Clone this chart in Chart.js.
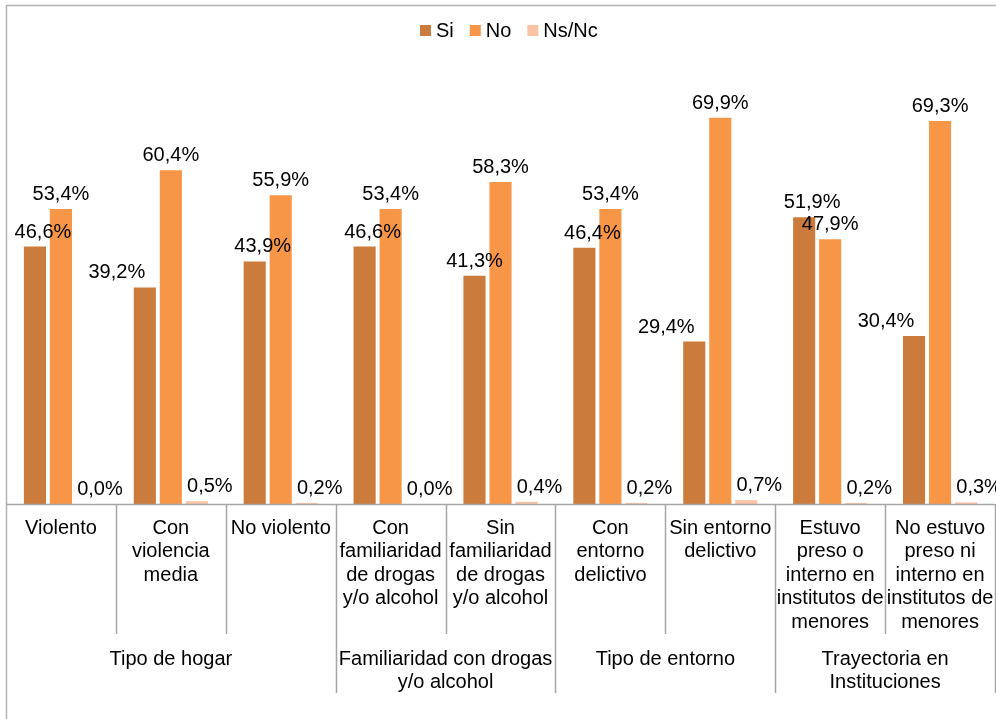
<!DOCTYPE html>
<html>
<head>
<meta charset="utf-8">
<script src="https://cdn.jsdelivr.net/npm/chart.js@4"></script>
<style>
  html, body { margin: 0; padding: 0; background: #fff; }
  #wrap { width: 996px; height: 719px; }
</style>
</head>
<body>
<div id="wrap"><canvas id="chart" width="996" height="719"></canvas></div>
<script>
// Core data
const categories = [
  ['Violento'],
  ['Con', 'violencia', 'media'],
  ['No violento'],
  ['Con', 'familiaridad', 'de drogas', 'y/o alcohol'],
  ['Sin', 'familiaridad', 'de drogas', 'y/o alcohol'],
  ['Con', 'entorno', 'delictivo'],
  ['Sin entorno', 'delictivo'],
  ['Estuvo', 'preso o', 'interno en', 'institutos de', 'menores'],
  ['No estuvo', 'preso ni', 'interno en', 'institutos de', 'menores']
];
const groups = [
  { label: ['Tipo de hogar'], from: 0, to: 2 },
  { label: ['Familiaridad con drogas', 'y/o alcohol'], from: 3, to: 4 },
  { label: ['Tipo de entorno'], from: 5, to: 6 },
  { label: ['Trayectoria en', 'Instituciones'], from: 7, to: 8 }
];
const seriesNames = ['Si', 'No', 'Ns/Nc'];
const siValues = [46.6, 39.2, 43.9, 46.6, 41.3, 46.4, 29.4, 51.9, 30.4];
const noValues = [53.4, 60.4, 55.9, 53.4, 58.3, 53.4, 69.9, 47.9, 69.3];
const nsValues = [0.0, 0.5, 0.2, 0.0, 0.4, 0.2, 0.7, 0.2, 0.3];

const colors = ['#CB7B3B', '#F79646', '#FAC3A5'];
const FONT = '20px "Liberation Sans", Arial, sans-serif';
const LINE = '#A6A6A6';

function fmt(v){ return v.toFixed(1).replace('.', ',') + '%'; }

// labels, legend, category axis and frame
const decorPlugin = {
  id: 'decor',
  afterDatasetsDraw(chart){
    const { ctx, chartArea: a, scales: { x } } = chart;
    const n = categories.length;
    const step = (a.right - a.left) / n;
    ctx.save();
    ctx.font = FONT;
    ctx.fillStyle = '#000';

    // data labels
    ctx.textAlign = 'center';
    ctx.textBaseline = 'alphabetic';
    chart.data.datasets.forEach((ds, di) => {
      const meta = chart.getDatasetMeta(di);
      meta.data.forEach((bar, i) => {
        let dx = 0;
        if(di === 0){
          const diff = noValues[i] - siValues[i];
          dx = diff > 20 ? -28 : (diff > 15 ? 0 : 8);
        } else if(di === 2){
          dx = 13;
        }
        ctx.fillText(fmt(ds.data[i]), bar.x + dx, bar.y - 9);
      });
    });

    // frame
    ctx.strokeStyle = '#B3B3B3';
    ctx.lineWidth = 1.5;
    ctx.beginPath();
    ctx.moveTo(6.5, 719); ctx.lineTo(6.5, 5.5); ctx.lineTo(996, 5.5);
    ctx.stroke();

    // baseline + separators
    ctx.strokeStyle = LINE;
    ctx.lineWidth = 1.5;
    ctx.beginPath();
    ctx.moveTo(a.left, a.bottom + 0.5); ctx.lineTo(a.right, a.bottom + 0.5);
    for(let i = 1; i <= n; i++){
      const xe = Math.round(a.left + i * step) + 0.5;
      const isGroupEdge = i === n || groups.some(g => g.to + 1 === i);
      ctx.moveTo(xe, a.bottom);
      ctx.lineTo(xe, isGroupEdge ? a.bottom + 189 : a.bottom + 130);
    }
    ctx.stroke();

    // category labels
    ctx.textBaseline = 'middle';
    categories.forEach((lines, i) => {
      const cx = x.getPixelForValue(i);
      lines.forEach((t, k) => ctx.fillText(t, cx, a.bottom + 24 + k * 23.5));
    });
    groups.forEach(g => {
      const cx = a.left + ((g.from + g.to + 1) / 2) * step;
      g.label.forEach((t, k) => ctx.fillText(t, cx, a.bottom + 155 + k * 23.5));
    });

    // legend
    ctx.textAlign = 'left';
    let lx = 420;
    seriesNames.forEach((name, i) => {
      ctx.fillStyle = colors[i];
      ctx.fillRect(lx, 25, 11, 11);
      ctx.fillStyle = '#000';
      ctx.fillText(name, lx + 16, 31);
      lx += 16 + ctx.measureText(name).width + 16;
    });
    ctx.restore();
  }
};

new Chart(document.getElementById('chart').getContext('2d'), {
  type: 'bar',
  data: {
    labels: categories.map(c => c.join(' ')),
    datasets: [
      { label: seriesNames[0], data: siValues, backgroundColor: colors[0] },
      { label: seriesNames[1], data: noValues, backgroundColor: colors[1] },
      { label: seriesNames[2], data: nsValues, backgroundColor: colors[2] }
    ]
  },
  options: {
    responsive: false,
    animation: false,
    layout: { padding: { left: 6, right: 1, top: 62, bottom: 215 } },
    datasets: { bar: { categoryPercentage: 0.71, barPercentage: 0.85, borderWidth: 0 } },
    scales: {
      x: { display: false, grid: { display: false } },
      y: { display: false, min: 0, max: 80 }
    },
    plugins: { legend: { display: false }, tooltip: { enabled: false } }
  },
  plugins: [decorPlugin]
});
</script>
</body>
</html>
